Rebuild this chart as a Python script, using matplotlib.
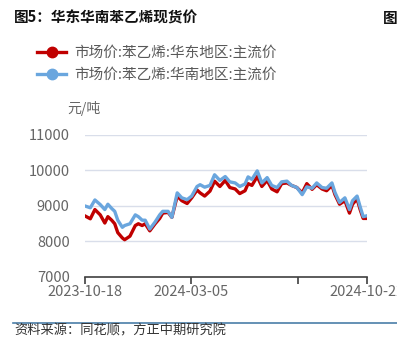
import numpy as np
import pandas as pd
import matplotlib
matplotlib.use("Agg")
import matplotlib.pyplot as plt
from matplotlib.lines import Line2D

plt.rcParams['font.family'] = ['Noto Sans CJK SC', 'DejaVu Sans']

# days since 2023-10-18
day_offset = [0, 7, 13, 20, 26, 30, 35, 39, 43, 49, 52, 59, 66, 70, 75, 79, 85, 92,
              98, 102, 109, 114, 121, 127, 134, 140, 147, 151, 157, 164, 170, 177,
              184, 190, 197, 203, 210, 214, 219, 226, 232, 239, 245, 252, 258, 265,
              271, 278, 285, 291, 298, 304, 311, 317, 324, 328, 334, 341, 347, 351,
              357, 361, 365, 369]
east = [8720, 8640, 8900, 8750, 8520, 8700, 8600, 8500, 8250, 8100, 8050, 8150,
        8450, 8500, 8450, 8500, 8300, 8500, 8650, 8800, 8820, 8680, 9280, 9150,
        9070, 9230, 9450, 9370, 9280, 9420, 9700, 9550, 9720, 9520, 9480, 9350,
        9430, 9630, 9580, 9830, 9550, 9720, 9480, 9400, 9630, 9650, 9580, 9520,
        9370, 9630, 9470, 9600, 9480, 9430, 9580, 9320, 9050, 9150, 8800, 9050,
        9200, 8900, 8650, 8650]
south = [9000, 8950, 9170, 9040, 8900, 9050, 8930, 8850, 8600, 8400, 8450, 8500,
         8750, 8700, 8600, 8600, 8350, 8550, 8750, 8850, 8850, 8680, 9370, 9230,
         9180, 9280, 9550, 9600, 9530, 9580, 9880, 9720, 9830, 9680, 9650, 9550,
         9620, 9820, 9750, 9990, 9650, 9800, 9580, 9520, 9680, 9700, 9580, 9520,
         9320, 9540, 9500, 9650, 9520, 9500, 9650, 9380, 9100, 9230, 8900, 9150,
         9280, 8980, 8700, 8720]
tick_dates = ['2023-10-18', '2024-03-05', '2024-07-23', '2024-10-22']
tick_labels = ['2023-10-18', '2024-03-05', '', '2024-10-22']

start = pd.Timestamp('2023-10-18')
dates = [start + pd.Timedelta(days=d) for d in day_offset]

red = '#C00000'
blue = '#6AA6DE'
gray = '#666666'

fig = plt.figure(figsize=(3.97, 3.38), dpi=100)
ax = fig.add_axes([85 / 397, 1 - 277 / 338, 282 / 397, 142 / 338])

ax.plot(dates, south, color=blue, lw=2.4, zorder=3)
ax.plot(dates, east, color=red, lw=2.4, zorder=2)

ax.set_ylim(7000, 11000)
ax.set_yticks([7000, 8000, 9000, 10000, 11000])
ax.set_xlim(pd.Timestamp(tick_dates[0]), pd.Timestamp(tick_dates[-1]))
ax.set_xticks([pd.Timestamp(t) for t in tick_dates])
ax.set_xticklabels(tick_labels)
for y in [8000, 9000, 10000, 11000]:
    ax.axhline(y, color='#D9DEEA', lw=1, zorder=1)

for s in ['top', 'right', 'left']:
    ax.spines[s].set_visible(False)
ax.spines['bottom'].set_color('#404040')
ax.spines['bottom'].set_linewidth(1.2)
ax.tick_params(axis='x', direction='out', length=5, width=1.2, color='#404040',
               labelsize=10.5, labelcolor=gray, pad=1)
ax.tick_params(axis='y', length=0, labelsize=10.5, labelcolor=gray, pad=11)
ax.xaxis.get_majorticklabels()[-1].set_clip_on(False)

fig.text(101 / 397, 1 - 108 / 338, '元/吨', fontsize=10, color=gray,
         ha='right', va='center')

fig.text(14 / 397, 1 - 18 / 338, '图5：华东华南苯乙烯现货价', fontsize=10.5,
         fontweight='bold', color='#111111', va='center')
fig.text(383 / 397, 1 - 18 / 338, '图6', fontsize=10.5,
         fontweight='bold', color='#111111', va='center')

handles = [Line2D([], [], color=red, lw=2.4, marker='o', ms=7.5),
           Line2D([], [], color=blue, lw=2.4, marker='o', ms=7.5)]
labels = ['市场价:苯乙烯:华东地区:主流价', '市场价:苯乙烯:华南地区:主流价']
fig.legend(handles, labels, loc='upper left', bbox_to_anchor=(37 / 397, 1 - 46 / 338),
           frameon=False, fontsize=10.5, labelcolor='#595959', handlelength=2.0,
           handletextpad=0.55, labelspacing=0.55, borderaxespad=0, borderpad=0)

fig.add_artist(Line2D([13 / 397, 1], [1 - 323 / 338, 1 - 323 / 338],
                      color='#4A7EA8', lw=1.2))
fig.text(14 / 397, 1 - 331 / 338, '资料来源：同花顺，方正中期研究院', fontsize=9.5,
         style='italic', color='#333333', va='center')

fig.savefig('out.png', dpi=100)
